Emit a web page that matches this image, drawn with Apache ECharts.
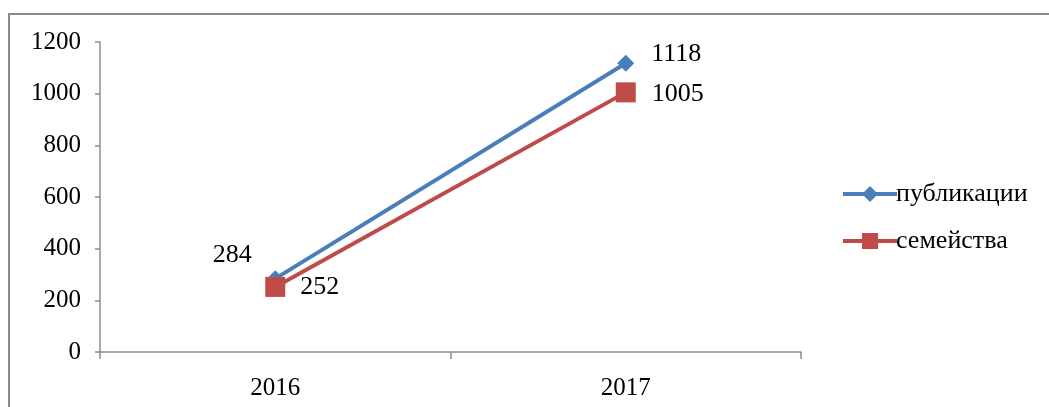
<!DOCTYPE html>
<html><head><meta charset="utf-8">
<script src="https://cdn.jsdelivr.net/npm/echarts@6/dist/echarts.min.js"></script>
<style>
html,body{margin:0;padding:0;background:#fff;}
#frame{position:absolute;left:8px;top:13px;width:1100px;height:500px;border-top:2px solid #8a8a8a;border-left:2px solid #8a8a8a;}
#c{position:absolute;left:0;top:0;width:1049px;height:407px;}
</style></head>
<body>
<div id="frame"></div>
<div id="c"></div>
<script>
const categories = ['2016', '2017'];
const publications = [284, 1118];
const families = [252, 1005];
const seriesNames = ['публикации', 'семейства'];

const font = 'Liberation Serif';
const txt = {fontFamily: font, fontSize: 25, color: '#000'};
const chart = echarts.init(document.getElementById('c'));
chart.setOption({
  animation: false,
  backgroundColor: 'transparent',
  textStyle: {fontFamily: font, fontSize: 25},
  grid: {left: 100, top: 42, right: 248, bottom: 55, containLabel: false},
  legend: {
    orient: 'vertical', left: 836, top: 176, itemGap: 21, itemWidth: 54, itemHeight: 20,
    textStyle: {fontFamily: font, fontSize: 26, color: '#000', padding: [0,0,0,-6]},
    lineStyle: {width: 4},
    data: seriesNames
  },
  xAxis: {
    type: 'category', data: categories, boundaryGap: true,
    axisLine: {lineStyle: {color: '#8c8c8c', width: 1.5}},
    axisTick: {show: true, length: 7, lineStyle: {color: '#8c8c8c', width: 1.5}},
    axisLabel: Object.assign({margin: 24}, txt)
  },
  yAxis: {
    type: 'value', min: 0, max: 1200, interval: 200,
    splitLine: {show: false},
    axisLine: {show: true, lineStyle: {color: '#8c8c8c', width: 1.5}},
    axisTick: {show: true, length: 5, lineStyle: {color: '#8c8c8c', width: 1.5}},
    axisLabel: Object.assign({margin: 19, formatter: v => String(v)}, txt)
  },
  series: [
    {
      name: seriesNames[0], type: 'line', data: publications,
      symbol: 'diamond', symbolSize: 17,
      lineStyle: {color: '#4a7ebb', width: 4},
      itemStyle: {color: '#4a7ebb'},
      label: {
        show: true, fontFamily: font, fontSize: 26, color: '#000', position: 'right',
        formatter: p => String(p.value)
      },
      labelLayout: p => p.dataIndex === 0 ? {dx: -76, dy: -23} : {dx: 12, dy: -9},
      z: 2
    },
    {
      name: seriesNames[1], type: 'line', data: families,
      symbol: 'rect', symbolSize: 20,
      lineStyle: {color: '#be4b48', width: 4},
      itemStyle: {color: '#be4b48'},
      label: {
        show: true, fontFamily: font, fontSize: 26, color: '#000', position: 'right',
        formatter: p => String(p.value)
      },
      labelLayout: p => p.dataIndex === 0 ? {dx: 10, dy: 0} : {dx: 11, dy: 2},
      z: 3
    }
  ]
});
</script>
</body></html>
